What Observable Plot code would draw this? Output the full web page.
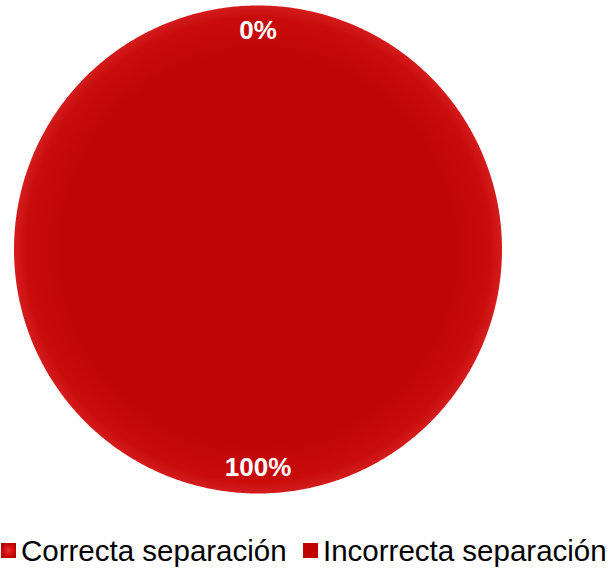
<!DOCTYPE html>
<html>
<head>
<meta charset="utf-8">
<script src="https://cdn.jsdelivr.net/npm/d3@7"></script>
<script src="https://cdn.jsdelivr.net/npm/@observablehq/plot@0.6"></script>
<style>
  body { margin: 0; background: #fff; font-family: "Liberation Sans", Arial, sans-serif; }
  #wrap { width: 608px; }
  #legend { position: relative; height: 39px; font-size: 29.5px; color: #000; }
  .item { position: absolute; top: 1px; height: 39px; display: flex; align-items: center; white-space: nowrap; }
  .sw { width: 15px; height: 15px; margin-right: 5px; flex: none; }
</style>
</head>
<body>
<div id="wrap"></div>
<script>
// Data
const categories = ["Correcta separación", "Incorrecta separación"];
const values = [0, 100];
const colors = ["#D21414", "#C00000"];

// Layout constants (pixels)
const W = 608, H = 530, CX = 257.5, CY = 249, R = 244;

const pie = d3.pie().sort(null).startAngle(0).endAngle(2 * Math.PI)(values);
const total = d3.sum(values);

// Build slice outlines in unit-circle coordinates
const rows = [];
pie.forEach((p, i) => {
  const span = p.endAngle - p.startAngle;
  if (span <= 0) return;
  const full = span >= 2 * Math.PI - 1e-9;
  const n = Math.max(2, Math.ceil(span / (Math.PI / 360)));
  if (!full) rows.push({cat: categories[i], x: 0, y: 0});
  for (let k = 0; k <= n; k++) {
    const a = p.startAngle + span * k / n;
    rows.push({cat: categories[i], x: Math.sin(a), y: Math.cos(a)});
  }
});

const labels = pie.map((p, i) => {
  const a = (p.startAngle + p.endAngle) / 2;
  return {x: 0.895 * Math.sin(a), y: 0.895 * Math.cos(a), t: Math.round(values[i] / total * 100) + "%"};
});

const chart = Plot.plot({
  width: W, height: H,
  margin: 0,
  x: {domain: [-CX / R, (W - CX) / R], axis: null},
  y: {domain: [-(H - CY) / R, CY / R], axis: null},
  marks: [
    Plot.line(rows, {x: "x", y: "y", z: "cat", fill: "url(#pieGrad)", stroke: "none", curve: "linear"}),
    Plot.text(labels, {x: "x", y: "y", text: "t", fill: "white", fontSize: 26, fontWeight: "bold",
      fontFamily: "Liberation Sans, Arial, sans-serif"})
  ]
});

// Gradient for the slice shading
const svg = d3.select(chart);
const defs = svg.insert("defs", ":first-child");
const g = defs.append("radialGradient").attr("id", "pieGrad").attr("cx", "50%").attr("cy", "50%").attr("r", "50%");
g.append("stop").attr("offset", "0%").attr("stop-color", "#BF0404");
g.append("stop").attr("offset", "80%").attr("stop-color", "#C00505");
g.append("stop").attr("offset", "95%").attr("stop-color", "#C80C0C");
g.append("stop").attr("offset", "100%").attr("stop-color", "#D41C1C");

const wrap = document.getElementById("wrap");
wrap.appendChild(chart);

// Legend
const legend = document.createElement("div");
legend.id = "legend";
const lefts = [1, 303];
categories.forEach((c, i) => {
  const it = document.createElement("div");
  it.className = "item";
  it.style.left = lefts[i] + "px";
  const sw = document.createElement("span");
  sw.className = "sw";
  sw.style.background = i === 0
    ? "radial-gradient(circle, #E83030 0%, #CC0808 55%, #A00000 100%)"
    : colors[i];
  const tx = document.createElement("span");
  tx.textContent = c;
  it.appendChild(sw);
  it.appendChild(tx);
  legend.appendChild(it);
});
wrap.appendChild(legend);
</script>
</body>
</html>
